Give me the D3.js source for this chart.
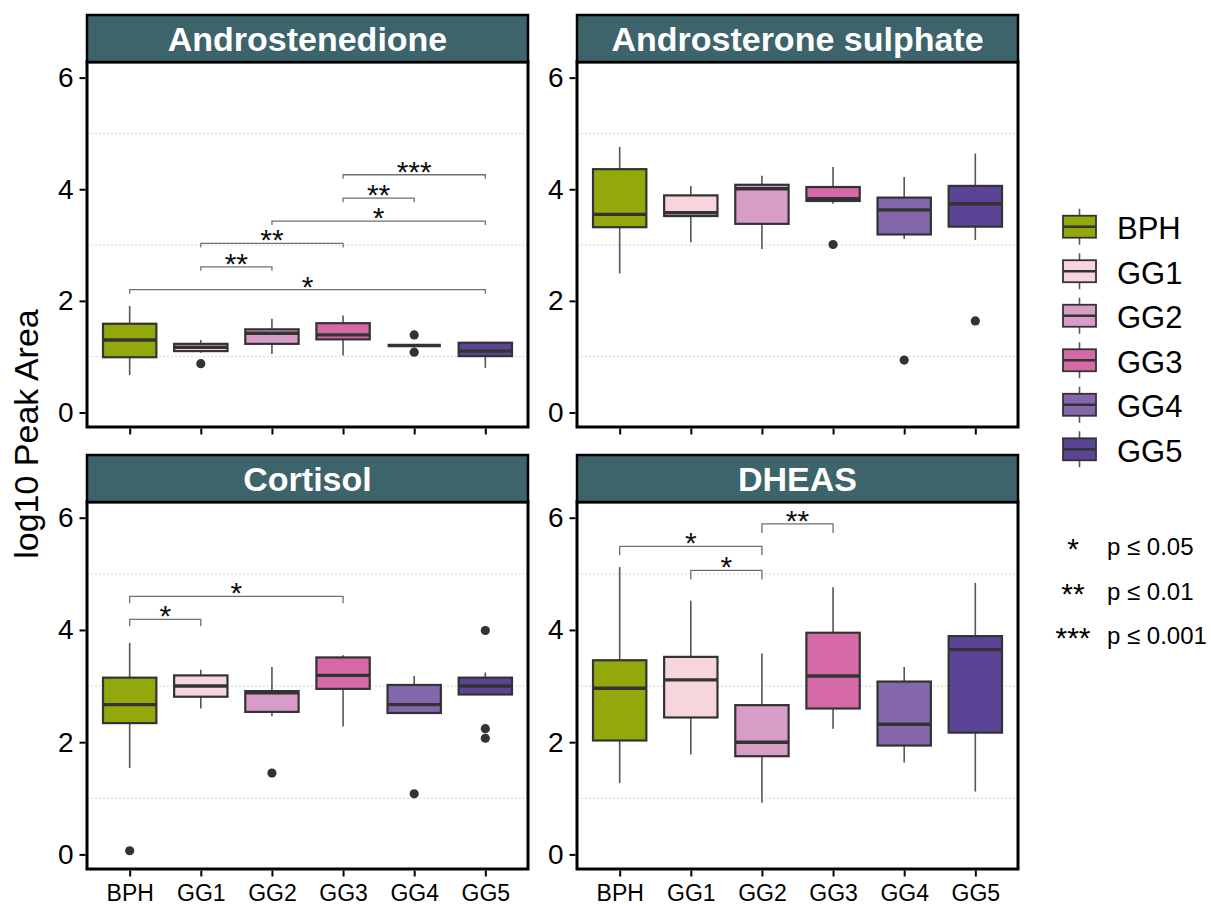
<!DOCTYPE html>
<html><head><meta charset="utf-8">
<script src="https://cdn.jsdelivr.net/npm/d3@7"></script>
<style>body{margin:0;background:#fff;} svg{display:block;font-family:Arial,"Liberation Sans",sans-serif;}</style>
</head><body><svg id="c" width="1211" height="908"></svg>
<script>
const groups = ["BPH","GG1","GG2","GG3","GG4","GG5"];
const panelTitles = ["Androstenedione","Androsterone sulphate","Cortisol","DHEAS"];
const groupColors = ["#93a80a","#f6d5dc","#d89dc6","#d56aa7","#8367aa","#5b4396"];
const yTicks = [0,2,4,6];
const yMinor = [1,3,5];
// per group: [lower whisker, q1, median, q3, upper whisker]
const androstenedioneBox = [[0.67,0.99,1.30,1.59,1.91],[1.07,1.10,1.17,1.23,1.30],[1.05,1.23,1.42,1.49,1.68],[1.02,1.31,1.39,1.60,1.74],[1.20,1.20,1.20,1.20,1.20],[0.80,1.01,1.10,1.25,1.27]];
const androstenedioneOut = [[],[0.875],[],[],[1.39,1.08],[]];
const androsteroneBox = [[2.49,3.32,3.55,4.36,4.76],[3.05,3.52,3.58,3.89,4.06],[2.93,3.38,4.01,4.08,4.24],[3.74,3.79,3.83,4.04,4.40],[3.11,3.19,3.63,3.85,4.22],[3.09,3.33,3.74,4.06,4.64]];
const androsteroneOut = [[],[],[],[3.01],[0.94],[1.64]];
const cortisolBox = [[1.54,2.34,2.67,3.15,3.77],[2.60,2.81,3.00,3.19,3.29],[2.46,2.54,2.88,2.91,3.34],[2.28,2.95,3.19,3.51,3.55],[2.50,2.52,2.67,3.02,3.18],[2.84,2.85,3.00,3.15,3.24]];
const cortisolOut = [[0.065],[],[1.45],[],[1.08],[3.99,2.24,2.07]];
const dheasBox = [[1.27,2.03,2.96,3.46,5.12],[1.78,2.44,3.11,3.52,4.52],[0.92,1.75,2.00,2.66,3.58],[2.24,2.60,3.18,3.95,4.76],[1.64,1.94,2.32,3.08,3.34],[1.12,2.17,3.65,3.89,4.84]];
const dheasOut = [[],[],[],[],[],[]];
// significance: [from group, to group, bracket height, label]
const androstenedioneSig = [[0,5,2.20,"*"],[1,2,2.61,"**"],[1,3,3.03,"**"],[2,5,3.43,"*"],[3,4,3.84,"**"],[3,5,4.26,"***"]];
const androsteroneSig = [];
const cortisolSig = [[0,3,4.60,"*"],[0,1,4.19,"*"]];
const dheasSig = [[0,2,5.49,"*"],[1,2,5.06,"*"],[2,3,5.89,"**"]];
const sigLegendMarks = ["*","**","***"];
const sigLegendLabels = ["p \u2264 0.05","p \u2264 0.01","p \u2264 0.001"];

const boxes = [androstenedioneBox, androsteroneBox, cortisolBox, dheasBox];
const outs = [androstenedioneOut, androsteroneOut, cortisolOut, dheasOut];
const sigs = [androstenedioneSig, androsteroneSig, cortisolSig, dheasSig];

const layout = [
  {x0:87,x1:528,st:15,sb:62,pb:427,tip:4,labels:false},
  {x0:577,x1:1018,st:15,sb:62,pb:427,tip:4,labels:false},
  {x0:87,x1:528,st:455,sb:502,pb:869,tip:7,labels:true},
  {x0:577,x1:1018,st:455,sb:502,pb:869,tip:9,labels:true}
];
const svg = d3.select("#c");
const yDomain = [-0.26, 6.28];
const FONT = "Arial,'Liberation Sans',sans-serif";

layout.forEach((L, pi) => {
  const g = svg.append("g");
  const xp = d3.scalePoint().domain(groups).range([L.x0, L.x1]).padding(0.6);
  const step = xp.step();
  const bw = step * 0.75;
  const y = d3.scaleLinear().domain(yDomain).range([L.pb, L.sb]);

  g.append("rect").attr("x",L.x0).attr("y",L.sb).attr("width",L.x1-L.x0).attr("height",L.pb-L.sb).attr("fill","#fff");
  g.selectAll(".mg").data(yMinor).join("line")
    .attr("x1",L.x0).attr("x2",L.x1).attr("y1",d=>y(d)).attr("y2",d=>y(d))
    .attr("stroke","#d4d4d4").attr("stroke-width",1).attr("stroke-dasharray","2,2");

  const data = boxes[pi].map((b,i)=>({g:groups[i], b, c:groupColors[i], o:outs[pi][i]}));
  const bg = g.selectAll(".bx").data(data).join("g");
  bg.append("line").attr("x1",d=>xp(d.g)).attr("x2",d=>xp(d.g))
    .attr("y1",d=>y(d.b[0])).attr("y2",d=>y(d.b[1])).attr("stroke","#555").attr("stroke-width",1.6);
  bg.append("line").attr("x1",d=>xp(d.g)).attr("x2",d=>xp(d.g))
    .attr("y1",d=>y(d.b[3])).attr("y2",d=>y(d.b[4])).attr("stroke","#555").attr("stroke-width",1.6);
  bg.append("rect").attr("x",d=>xp(d.g)-bw/2).attr("width",bw)
    .attr("y",d=>y(d.b[3])).attr("height",d=>y(d.b[1])-y(d.b[3]))
    .attr("fill",d=>d.c).attr("stroke","#333").attr("stroke-width",2.2);
  bg.append("line").attr("x1",d=>xp(d.g)-bw/2).attr("x2",d=>xp(d.g)+bw/2)
    .attr("y1",d=>y(d.b[2])).attr("y2",d=>y(d.b[2])).attr("stroke","#333").attr("stroke-width",3.4);
  bg.each(function(d){
    d3.select(this).selectAll("circle").data(d.o).join("circle")
      .attr("cx",xp(d.g)).attr("cy",v=>y(v)).attr("r",4.6).attr("fill","#333");
  });

  // significance brackets
  const sg = g.selectAll(".sg").data(sigs[pi]).join("g");
  sg.append("path").attr("d",s=>{
      const a=xp(groups[s[0]]), b=xp(groups[s[1]]), yy=y(s[2]);
      return `M${a},${yy+L.tip}V${yy}H${b}V${yy+L.tip}`;
    }).attr("fill","none").attr("stroke","#707070").attr("stroke-width",1.3);
  sg.append("text").attr("x",s=>(xp(groups[s[0]])+xp(groups[s[1]]))/2).attr("y",s=>y(s[2])+7)
    .attr("text-anchor","middle").attr("font-size",30).attr("fill","#111").text(s=>s[3]);

  // border
  g.append("rect").attr("x",L.x0).attr("y",L.sb).attr("width",L.x1-L.x0).attr("height",L.pb-L.sb)
    .attr("fill","none").attr("stroke","#000").attr("stroke-width",3);
  // strip
  g.append("rect").attr("x",L.x0).attr("y",L.st).attr("width",L.x1-L.x0).attr("height",L.sb-L.st)
    .attr("fill","#3d636b").attr("stroke","#000").attr("stroke-width",2.5);
  g.append("text").attr("x",(L.x0+L.x1)/2).attr("y",(L.st+L.sb)/2+12).attr("text-anchor","middle")
    .attr("fill","#fff").attr("font-weight","bold").attr("font-size",34).text(panelTitles[pi]);

  // y axis
  const ya = g.append("g").attr("transform",`translate(${L.x0-1.5},0)`)
    .call(d3.axisLeft(y).tickValues(yTicks).tickSize(6).tickPadding(6).tickFormat(d3.format("d")));
  ya.select(".domain").remove();
  ya.selectAll(".tick line").attr("stroke","#000").attr("stroke-width",2);
  ya.selectAll(".tick text").attr("font-size",28).attr("fill","#000").attr("font-family",FONT);
  // x axis
  const xa = g.append("g").attr("transform",`translate(0,${L.pb+1.5})`)
    .call(d3.axisBottom(xp).tickSize(6).tickPadding(8).tickFormat(L.labels? (d=>d) : (()=>"")));
  xa.select(".domain").remove();
  xa.selectAll(".tick line").attr("stroke","#000").attr("stroke-width",2);
  xa.selectAll(".tick text").attr("font-size",23).attr("fill","#000").attr("font-family",FONT);
});

// y title
svg.append("text").attr("transform","translate(38,434) rotate(-90)").attr("text-anchor","middle")
  .attr("font-size",34).attr("fill","#000").text("log10 Peak Area");

// legend
const leg = svg.append("g");
const ly = d3.scalePoint().domain(groups).range([226.7, 449.3]);
const li = leg.selectAll(".li").data(groups).join("g").attr("transform",d=>`translate(0,${ly(d)})`);
li.append("line").attr("x1",1079.5).attr("x2",1079.5).attr("y1",-18).attr("y2",18).attr("stroke","#555").attr("stroke-width",1.6);
li.append("rect").attr("x",1063).attr("y",-11).attr("width",33).attr("height",22)
  .attr("fill",(d,i)=>groupColors[i]).attr("stroke","#333").attr("stroke-width",1.8);
li.append("line").attr("x1",1063).attr("x2",1096).attr("y1",0).attr("y2",0).attr("stroke","#333").attr("stroke-width",2.5);
li.append("text").attr("x",1117).attr("y",12.5).attr("font-size",31).attr("fill","#000").text(d=>d);

const sy = d3.scalePoint().domain(sigLegendMarks).range([555, 644]);
const sl = svg.append("g").selectAll("g").data(sigLegendMarks).join("g");
sl.append("text").attr("x",1073).attr("y",d=>sy(d)+4).attr("text-anchor","middle").attr("font-size",30).attr("fill","#000").text(d=>d);
sl.append("text").attr("x",1107).attr("y",d=>sy(d)).attr("font-size",24).attr("fill","#000").text((d,i)=>sigLegendLabels[i]);
</script></body></html>
